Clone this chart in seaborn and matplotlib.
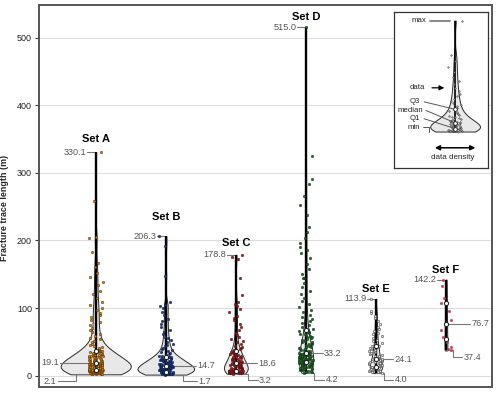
import numpy as np
import pandas as pd
import matplotlib
matplotlib.use("Agg")
import matplotlib.pyplot as plt
import seaborn as sns

# ---------------- data ----------------
set_names = ["Set A", "Set B", "Set C", "Set D", "Set E", "Set F"]

set_a = [2.1, 2.4, 2.7, 2.9, 3.2, 3.4, 3.7, 3.9, 4.1, 4.3, 4.6, 4.8, 5.0, 5.2, 5.3, 5.5, 5.7, 5.9, 6.0, 6.2,
         6.3, 6.5, 6.6, 6.8, 6.9, 7.0, 7.2, 7.3, 7.4, 7.5, 7.7, 7.8, 7.9, 8.0, 8.1, 8.2, 8.3, 8.4, 8.5, 8.6,
         8.8, 9.1, 9.4, 9.6, 9.9, 10.2, 10.5, 10.8, 11.1, 11.4, 11.7, 12.0, 12.3, 12.6, 12.9, 13.2, 13.5, 13.8, 14.1, 14.4,
         14.7, 15.0, 15.3, 15.6, 15.9, 16.2, 16.5, 16.8, 17.0, 17.3, 17.5, 17.7, 17.9, 18.1, 18.3, 18.5, 18.7, 18.9, 19.0, 19.1,
         19.4, 19.8, 20.3, 20.7, 21.2, 21.6, 22.1, 22.5, 23.0, 23.4, 23.9, 24.3, 24.8, 25.3, 25.7, 26.2, 26.7, 27.1, 27.6, 28.1,
         28.5, 29.0, 29.5, 29.9, 30.4, 30.9, 31.3, 31.8, 32.3, 32.7, 33.2, 33.7, 34.1, 34.6, 35.1, 35.5, 36.0, 36.4, 36.8, 37.2,
         38.1, 39.5, 41.0, 42.6, 44.2, 45.9, 47.5, 49.4, 51.6, 53.8, 56.1, 58.7, 61.3, 64.2, 67.5, 71.0, 74.8, 78.9, 83.1, 87.6,
         89.9, 92.4, 97.0, 100.8, 104.5, 109.3, 115.0, 120.6, 125.2, 133.7, 138.4, 145.9, 151.6, 160.2, 167.0, 182.5, 203.1, 205.4, 258.0, 330.1]

set_b = [1.7, 2.0, 2.3, 2.5, 2.7, 2.9, 3.1, 3.3, 3.4, 3.6, 3.7, 3.9, 4.0, 4.1, 4.3, 4.4, 4.5, 4.7, 4.8, 4.9,
         5.0, 5.1, 5.2, 5.3, 5.4, 5.5, 5.6, 5.7, 5.8, 5.9, 6.0, 6.1,
         6.3, 6.6, 6.9, 7.2, 7.5, 7.7, 8.0, 8.3, 8.6, 8.9, 9.1, 9.4, 9.7, 10.0, 10.3, 10.6, 10.9, 11.2, 11.5, 11.8,
         12.1, 12.4, 12.6, 12.9, 13.1, 13.4, 13.6, 13.8, 14.0, 14.2, 14.4, 14.6, 14.7,
         15.0, 15.4, 15.8, 16.2, 16.6, 17.0, 17.4, 17.8, 18.2, 18.6, 19.1, 19.5, 19.9, 20.3, 20.8, 21.2, 21.6, 22.1, 22.5, 22.9,
         23.3, 23.8, 24.2, 24.6, 25.0, 25.4, 25.8, 26.2, 26.6, 27.0, 27.4, 27.8,
         28.6, 29.7, 30.9, 32.2, 33.5, 34.9, 36.4, 38.0, 39.7, 41.5, 43.4, 45.5, 47.6, 50.0, 52.5, 55.1, 58.0, 61.2, 64.6, 68.3,
         72.1, 76.5, 80.9, 84.2, 89.6, 94.8, 99.5, 102.7, 105.3, 108.9, 147.5, 192.4, 206.3]

set_c = [3.2, 3.5, 3.8, 4.0, 4.3, 4.5, 4.7, 4.9, 5.1, 5.3, 5.5, 5.6, 5.8, 6.0, 6.1, 6.3, 6.4, 6.5, 6.6, 6.8,
         6.9, 7.0, 7.1, 7.2, 7.3, 7.4, 7.5,
         7.8, 8.2, 8.6, 9.0, 9.4, 9.8, 10.2, 10.6, 11.0, 11.4, 11.8, 12.2, 12.6, 13.0, 13.4, 13.8, 14.2, 14.6, 15.0, 15.4,
         15.8, 16.2, 16.6, 17.0, 17.4, 17.8, 18.2, 18.6,
         19.2, 19.8, 20.5, 21.1, 21.8, 22.4, 23.1, 23.7, 24.4, 25.0, 25.7, 26.3, 27.0, 27.6, 28.3, 28.9, 29.6, 30.2, 30.9, 31.5,
         32.2, 32.8, 33.5, 34.1, 34.8, 35.4, 36.1,
         37.4, 39.0, 40.7, 42.5, 44.6, 46.8, 49.2, 51.7, 54.3, 57.5, 60.4, 63.8, 67.9, 72.3, 77.0, 82.4, 85.0, 88.1, 93.6, 98.2,
         103.4, 106.1, 109.0, 119.7, 144.8, 172.4, 176.2, 178.8]

set_d = [4.2, 5.0, 5.8, 6.5, 7.1, 7.8, 8.4, 9.0, 9.5, 10.1, 10.6, 11.1, 11.6, 12.1, 12.5, 13.0, 13.4, 13.8, 14.2, 14.6,
         15.0, 15.4, 15.8, 16.1, 16.5, 16.8, 17.2, 17.5, 17.8, 18.2, 18.5, 18.8, 19.1, 19.4, 19.7, 20.0, 20.3,
         20.6, 21.0, 21.3, 21.6, 21.9, 22.2, 22.5, 22.8, 23.1, 23.4, 23.7, 24.0, 24.3, 24.6, 24.9, 25.2, 25.5, 25.8, 26.1, 26.4,
         26.7, 27.0, 27.3, 27.6, 28.0, 28.4, 28.8, 29.2, 29.6, 30.0, 30.4, 30.8, 31.2, 31.6, 32.0, 32.4, 32.8, 33.2,
         33.6, 34.3, 35.0, 35.7, 36.4, 37.1, 37.9, 38.7, 39.5, 40.3, 41.1, 41.9, 42.8, 43.7, 44.6, 45.5, 46.4, 47.3, 48.3, 49.3,
         50.3, 51.3, 52.3, 53.3, 54.4, 55.5, 56.6, 57.7, 58.8, 59.9, 61.0, 62.1, 63.2, 64.3, 65.4, 66.5, 67.6,
         69.5, 72.1, 74.8, 77.6, 80.5, 83.7, 86.9, 90.3, 94.1, 97.8, 101.6, 105.9, 110.4, 115.2, 120.3, 125.8, 131.4, 137.5,
         143.8, 145.2, 150.6, 157.9, 165.3, 173.4, 181.2, 186.0, 190.7, 196.3, 203.8, 213.0, 219.5, 238.4, 252.7, 266.1,
         283.0, 291.4, 325.2, 515.0]

set_e = [4.0, 5.1, 6.0, 6.8, 7.5, 8.1, 8.7, 9.2, 9.7, 10.1, 10.5, 10.9, 11.3, 11.6, 12.0, 12.3, 12.6,
         13.0, 13.7, 14.3, 15.0, 15.6, 16.3, 16.9, 17.6, 18.2, 18.8, 19.5, 20.1, 20.8, 21.5, 22.1, 22.8, 23.5, 24.1,
         25.2, 26.4, 27.5, 28.7, 29.9, 31.1, 32.3, 33.5, 34.7, 35.9, 37.1, 38.3, 39.6, 40.8, 42.1, 43.4, 44.7,
         46.5, 48.6, 50.8, 53.2, 55.9, 58.3, 61.0, 63.8, 66.5, 69.2, 72.6, 76.1, 80.3, 84.8, 87.9, 92.5, 96.0, 113.9]

set_f = [37.4, 39.5, 43.0, 50.2, 57.8, 68.0, 76.7, 82.0, 95.0, 108.0, 115.0, 132.0, 142.2]

legend_data = [1.0, 1.1, 1.2, 1.3, 1.4, 1.5, 1.6, 1.7, 1.8, 1.9, 2.0, 2.2, 2.4, 2.6, 2.8, 3.0, 3.2, 3.4, 3.6, 3.8,
               4.0, 4.3, 4.6, 4.9, 5.2, 5.5, 5.8, 6.1, 6.4, 6.7, 7.0, 7.3, 7.6, 7.9, 8.2, 8.5, 8.8, 9.1, 9.5, 9.9,
               10.3, 10.8, 11.3, 11.8, 12.4, 13.0, 13.6, 14.3, 15.0, 15.8, 16.6, 17.5, 18.5, 19.6, 20.8, 22.1, 23.5,
               25.0, 26.7, 28.5, 30.4, 32.5, 34.8, 37.3, 40.0, 43.0, 46.3, 50.0, 54.0, 58.5, 63.5, 69.0, 100.0]

mins = [2.1, 1.7, 3.2, 4.2, 4.0, 37.4]
q1s = [8.5, 6.0, 7.5, 20.0, 12.5, 55.0]
medians = [19.1, 14.7, 18.6, 33.2, 24.1, 76.7]
q3s = [37.0, 27.5, 36.0, 67.0, 44.0, 108.0]
maxs = [330.1, 206.3, 178.8, 515.0, 113.9, 142.2]

# ---------------- style ----------------
point_colors = ["#d4861f", "#1d3a82", "#a31f24", "#23692e", "#e4e4e4", "#c03a5a"]
edge_colors = ["#4a2a00", "#0a1a40", "#4a0a0a", "#0a300f", "#333333", "#c03a5a"]
violin_widths = [1.0, 0.81, 0.34, 0.21, 0.18, 0.04]
title_offsets = [20, 28.5, 17, 15, 14, 14]
label_side = [-1, 1, 1, 1, 1, 1]
med_line = [0.51, 0.43, 0.30, 0.24, 0.24, 0.34]
min_elbow = [0.28, 0.24, 0.18, 0.12, 0.12, 0.10]
min_text = [0.54, 0.44, 0.31, 0.26, 0.25, 0.23]

sns.set_style("white")
plt.rcParams["font.family"] = ["Liberation Sans", "DejaVu Sans"]

all_sets = [set_a, set_b, set_c, set_d, set_e, set_f]

fig = plt.figure(figsize=(5.0, 3.94), dpi=100)
ax = fig.add_axes([0.078, 0.018, 0.906, 0.969])

np.random.seed(5)
for i, (name, vals) in enumerate(zip(set_names, all_sets)):
    df = pd.DataFrame({"set": name, "length": vals})
    sns.violinplot(data=df, x="set", y="length", order=set_names, width=violin_widths[i],
                   cut=0, inner=None, density_norm="width", color="#e8e8e8", saturation=1,
                   linecolor="#2a2a2a", linewidth=0.7, bw_adjust=0.6, ax=ax)

ax.vlines(range(len(set_names)), mins, maxs, color="black", lw=1.7, zorder=1.1)

for i, (name, vals) in enumerate(zip(set_names, all_sets)):
    df = pd.DataFrame({"set": name, "length": vals})
    sns.stripplot(data=df, x="set", y="length", order=set_names, jitter=0.1 if i < 5 else 0.08,
                  size=1.75, color=point_colors[i], edgecolor=edge_colors[i], linewidth=0.35,
                  ax=ax, zorder=1.2)

pos = np.arange(len(set_names))
for q in (q1s, medians, q3s):
    ax.scatter(pos, q, s=9, facecolor="white", edgecolor="#1a1a1a", linewidths=0.7, zorder=3)

lab_kw = dict(fontsize=6.6, color="#555555")
line_kw = dict(color="#777777", lw=0.8)
for i in range(len(set_names)):
    s = label_side[i]
    ha = "left" if s > 0 else "right"
    # max
    ax.plot([i - 0.125, i - 0.03], [maxs[i], maxs[i]], zorder=1.05, **line_kw)
    ax.text(i - 0.135, maxs[i], f"{maxs[i]:.1f}", ha="right", va="center", **lab_kw)
    # median
    ax.plot([i, i + s * med_line[i]], [medians[i], medians[i]], zorder=1.05, **line_kw)
    ax.text(i + s * (med_line[i] + 0.02), medians[i], f"{medians[i]:.1f}", ha=ha, va="center", **lab_kw)
    # min
    ym = mins[i] - 10
    ax.plot([i, i + s * min_elbow[i], i + s * min_elbow[i], i + s * min_text[i]],
            [mins[i], mins[i], ym, ym], zorder=1.05, **line_kw)
    ax.text(i + s * (min_text[i] + 0.02), ym, f"{mins[i]:.1f}", ha=ha, va="center", **lab_kw)
    # title
    ax.text(i, maxs[i] + title_offsets[i], set_names[i], ha="center", va="center",
            fontsize=8, fontweight="bold", color="black")

ax.set_xlim(-0.81, 5.657)
ax.set_ylim(-16.5, 548)
ax.set_xticks([])
ax.set_xlabel("")
ax.set_yticks(range(0, 600, 100))
ax.tick_params(axis="y", left=True, labelsize=6.5, length=3, width=0.8, color="#333333",
               pad=2, direction="out", labelcolor="#222222")
ax.set_ylabel("Fracture trace length (m)", fontsize=6.4, fontweight="bold")
ax.yaxis.set_label_coords(-0.066, 0.47)
ax.grid(axis="y", color="#dcdcdc", lw=0.8)
ax.set_axisbelow(True)
for sp in ax.spines.values():
    sp.set_color("#555555")
    sp.set_linewidth(1.4)

# ---------------- inset legend ----------------
axi = fig.add_axes([0.788, 0.574, 0.188, 0.396])
dfl = pd.DataFrame({"k": "x", "v": legend_data})
sns.violinplot(data=dfl, x="k", y="v", width=1.06, cut=0, inner=None, density_norm="width",
               color="#e8e8e8", saturation=1, linecolor="#2a2a2a", linewidth=0.7, bw_adjust=0.6, ax=axi)
axi.vlines([0], [min(legend_data)], [max(legend_data)], color="black", lw=1.2, zorder=1.1)
sns.stripplot(data=dfl, x="k", y="v", jitter=0.15, size=1.1, color="#9a9a9a",
              edgecolor="#333333", linewidth=0.3, ax=axi, zorder=1.2)
lq1, lmed, lq3 = np.percentile(legend_data, [25, 50, 75])
axi.scatter([0, 0, 0], [lq1, lmed, lq3], s=7, facecolor="white", edgecolor="#1a1a1a",
            linewidths=0.6, zorder=3)
ik = dict(fontsize=5.6, color="#222222", va="center")
lmax = max(legend_data)
lmin = min(legend_data)
axi.plot([-0.534, -0.11], [lmax, lmax], color="#888888", lw=1.4)
axi.text(-0.62, lmax, "max", ha="right", **ik)
axi.annotate("", xy=(-0.17, 40), xytext=(-0.55, 40),
             arrowprops=dict(arrowstyle="-|>", color="black", lw=0.9, mutation_scale=7))
axi.text(-0.64, 40, "data", ha="right", **ik)
axi.plot([-0.66, 0], [27.5, lq3], color="#555555", lw=0.7, zorder=2.5)
axi.text(-0.747, 27.5, "Q3", ha="right", **ik)
axi.plot([-0.62, 0], [19.8, lmed], color="#555555", lw=0.7, zorder=2.5)
axi.text(-0.68, 19.8, "median", ha="right", **ik)
axi.plot([-0.66, 0], [12.4, lq1], color="#555555", lw=0.7, zorder=2.5)
axi.text(-0.747, 12.4, "Q1", ha="right", **ik)
axi.plot([-0.68, -0.55, -0.55], [5.0, 5.0, lmin], color="#555555", lw=0.7, zorder=2.5)
axi.text(-0.747, 5.0, "min", ha="right", **ik)
axi.annotate("", xy=(0.49, -13.5), xytext=(-0.49, -13.5),
             arrowprops=dict(arrowstyle="<|-|>", color="black", lw=1.1, mutation_scale=7))
axi.text(-0.05, -22.5, "data density", ha="center", fontsize=5.8, color="#222222", va="center")
axi.set_xlim(-1.3, 0.7)
axi.set_ylim(-31.4, 107.8)
axi.set_xticks([])
axi.set_yticks([])
axi.set_xlabel("")
axi.set_ylabel("")
axi.set_facecolor("white")
for sp in axi.spines.values():
    sp.set_color("#333333")
    sp.set_linewidth(0.9)

fig.savefig("out.png", dpi=100)
